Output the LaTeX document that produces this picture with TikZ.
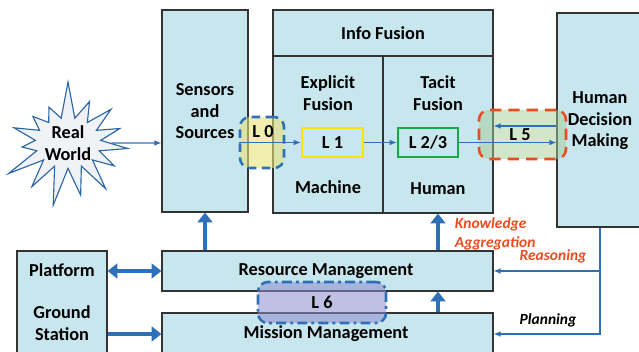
\documentclass[tikz,border=0pt]{standalone}
\usepackage{fontspec}
\setmainfont{Carlito}
\usetikzlibrary{fit,calc,shapes.symbols,arrows.meta}
\definecolor{boxblue}{RGB}{200,230,237}
\definecolor{linkblue}{RGB}{46,112,184}
\definecolor{lzero}{RGB}{232,228,120}
\definecolor{lfive}{RGB}{165,205,150}
\definecolor{lsix}{RGB}{140,140,205}
\definecolor{hot}{RGB}{234,76,34}
\definecolor{lone}{RGB}{250,228,0}
\definecolor{ltwo}{RGB}{20,170,70}
\definecolor{starfill}{RGB}{240,242,246}
\tikzset{
  box/.style={draw=black!80, fill=boxblue, line width=0.8pt, inner sep=0pt},
  level/.style={draw, line width=1.8pt, inner sep=0pt},
  link/.style={draw=linkblue, line width=0.8pt, -{Latex[length=5pt,width=4pt]}},
  bold link/.style={draw=linkblue, line width=2.2pt, -{Triangle[length=7pt,width=10.5pt]}},
  note/.style={font=\bfseries\itshape\fontsize{11}{13}\selectfont, align=left}
}
\begin{document}
\begin{tikzpicture}[x=0.025cm, y=-0.025cm, font=\bfseries\fontsize{13}{15.3}\selectfont]
\useasboundingbox (0,0) rectangle (639,352);
\clip (0,0) rectangle (639,352);

% top row
\node[box, fit={(162,10) (248,212)}] (sensors) {};
\node[align=center] (sentext) at (205,111.5) {Sensors\\and\\Sources};
\node[box, fit={(273,10) (493,213)}] (fusion) {};
\node[box, fit={(273,10) (493,56)}] (head) {};
\node (headtext) at (383,33) {Info Fusion};
\node[box, fit={(273,56) (383,213)}] (explicit) {};
\node[box, fit={(383,56) (493,213)}] (tacit) {};
\node[box, fit={(557,13) (643,227)}] (hdm) {};
\node[align=center] (hdmtext) at (600,121) {Human\\Decision\\Making};
\node[align=center] (exptext) at (328,93) {Explicit\\Fusion};
\node (machine) at (328,187) {Machine};
\node[align=center] (tactext) at (438,93) {Tacit\\Fusion};
\node (human) at (438,189) {Human};

\node[starburst, starburst points=15, starburst point height=28pt, random starburst=7,
  draw=linkblue!90!black, fill=starfill, line width=0.8pt, minimum width=96pt,
  minimum height=92pt, align=center, inner sep=0pt] (real) at (68,143) {Real\\World};

% levels
\node[level, draw=linkblue, dash pattern=on 6pt off 4pt, fill=lzero, fill opacity=0.6,
  rounded corners=7pt, fit={(240,117) (284,168)}] (l0) {};
\node (l0text) at (263,132) {L 0};
\node[level, draw=lone, fit={(302,128) (363,157)}] (l1) {};
\node (l1text) at (l1) {L 1};
\node[level, draw=ltwo, fit={(398,128) (458,157)}] (l23) {};
\node (l23text) at (l23) {L 2/3};
\node[level, draw=hot, dash pattern=on 8pt off 5pt, fill=lfive, fill opacity=0.5,
  rounded corners=7pt, fit={(479,110) (566,159)}] (l5) {};
\node (l5text) at (520,135) {L 5};

% bottom row
\node[box, fit={(17,251) (107,362)}] (station) {};
\node (platform) at (62,270) {Platform};
\node[align=center] (ground) at (62,323) {Ground\\Station};
\node[box, fit={(162,251) (493,291)}] (res) {};
\node (restext) at (326,271) {Resource Management};
\node[box, fit={(162,313) (493,354)}] (mis) {};
\node[level, draw=linkblue, dash pattern=on 7pt off 3pt on 2pt off 3pt, fill=lsix,
  fill opacity=0.55, rounded corners=7pt, fit={(258,282) (386,323)}] (l6) {};
\node (l6text) at (l6) {L 6};
\node (mistext) at (326,334) {Mission Management};

% connectors
\draw[link] (real) -- (real -| sensors.west);
\draw[link] (l0.west) -- (l1);
\draw[link] (l1) -- (l23);
\draw[link] (l23) -- (l23 -| hdm.west);
\coordinate (back) at ($(hdm.west)+(0,6)$);
\draw[link] (back) -- (back -| fusion.east);

\draw[bold link] (res.north -| sensors.south) -- (sensors.south);
\draw[bold link] (res.north -| tacit.south) -- (tacit.south);
\draw[bold link] (mis.north -| tacit.south) -- (res.south -| tacit.south);
\draw[bold link, {Triangle[length=7pt,width=10.5pt]}-{Triangle[length=7pt,width=10.5pt]}] (station.east |- res) -- (res.west);
\draw[bold link] (station.east |- mistext) -- (mistext -| mis.west);

\draw[link] (hdm.south) |- (mistext -| mis.east);
\draw[link] (hdm.south |- res.east) -- (res.east);

\node[note, text=hot, anchor=west] (know) at (450,234) {Knowledge\\Aggregation};
\node[note, text=hot] (reason) at (553,256) {Reasoning};
\node[note] (plan) at (548,320) {Planning};
\end{tikzpicture}
\end{document}
